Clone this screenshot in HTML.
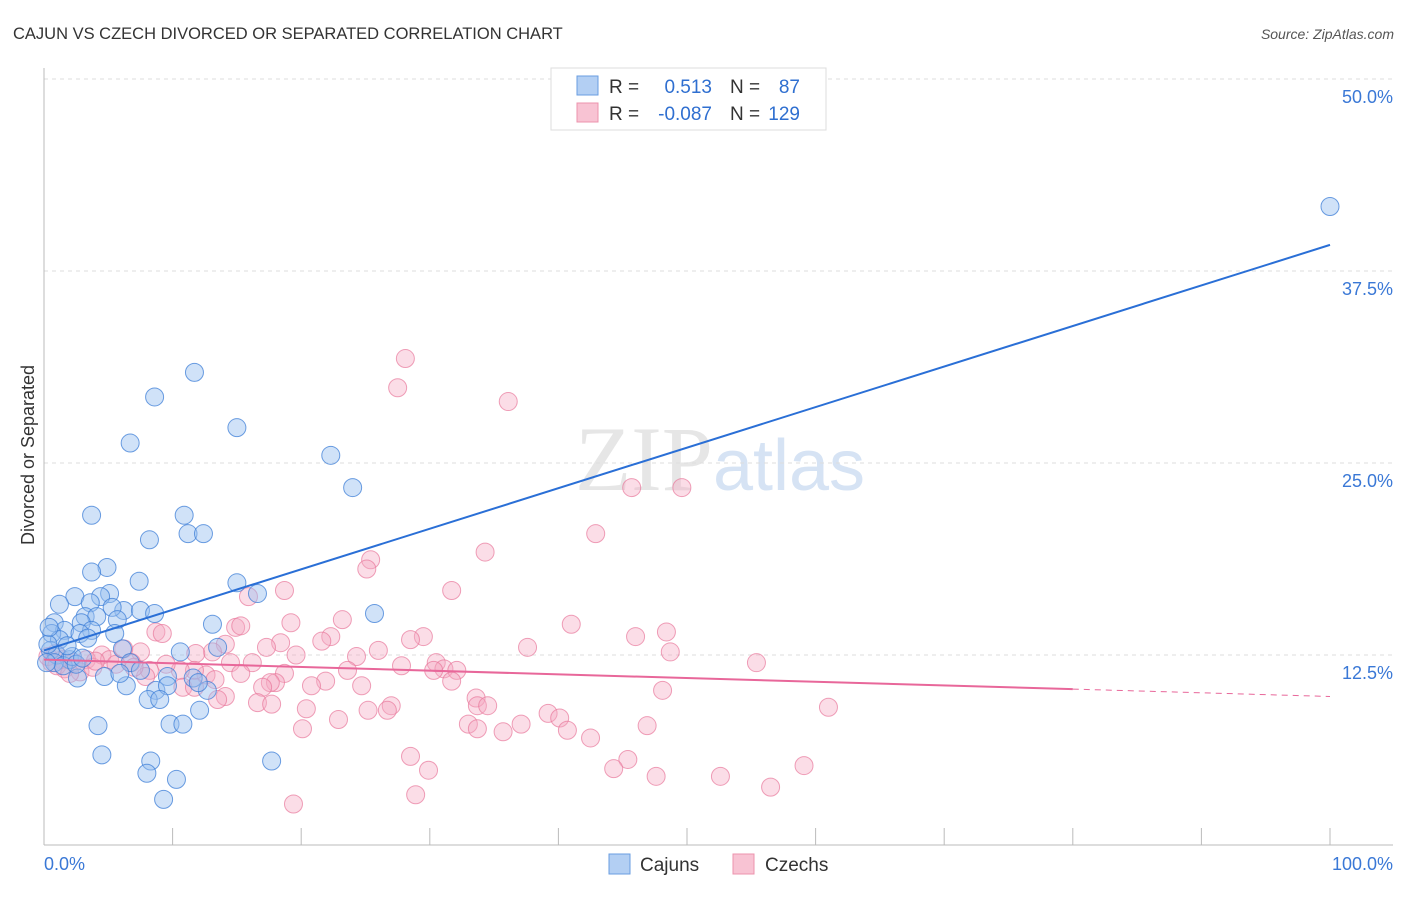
<!DOCTYPE html>
<html><head><meta charset="utf-8"><style>
body{margin:0;background:#fff;font-family:"Liberation Sans",sans-serif}
</style></head><body>
<svg id="chart" width="1406" height="892" xmlns="http://www.w3.org/2000/svg" font-family="Liberation Sans, sans-serif">
<text x="13" y="39" font-size="16.5" fill="#333">CAJUN VS CZECH DIVORCED OR SEPARATED CORRELATION CHART</text>
<text x="1394" y="39" font-size="14" fill="#555" font-style="italic" text-anchor="end">Source: ZipAtlas.com</text>
<text x="720" y="490" font-size="92" text-anchor="middle" fill="#e6e6e6" font-family="Liberation Serif, serif">ZIP<tspan fill="#d6e3f4" font-family="Liberation Sans, sans-serif" font-size="72">atlas</tspan></text>
<g id="grid"></g>
<g id="axes"></g>
<text transform="translate(34,455) rotate(-90)" font-size="18" fill="#333" text-anchor="middle">Divorced or Separated</text>
<g id="pts"></g>
<g id="lines"></g>
<g>
<rect x="551" y="68" width="275" height="62" fill="#fff" stroke="#ddd"/>
<rect x="577" y="76" width="21" height="19" fill="#b3cff3" stroke="#6a9ee0"/>
<rect x="577" y="103" width="21" height="19" fill="#f8c3d3" stroke="#ec93ad"/>
<text x="609" y="93" font-size="19" fill="#333">R =</text>
<text x="712" y="93" font-size="19" fill="#2f6fd0" text-anchor="end">0.513</text>
<text x="730" y="93" font-size="19" fill="#333">N =</text>
<text x="800" y="93" font-size="19" fill="#2f6fd0" text-anchor="end">87</text>
<text x="609" y="120" font-size="19" fill="#333">R =</text>
<text x="712" y="120" font-size="19" fill="#2f6fd0" text-anchor="end">-0.087</text>
<text x="730" y="120" font-size="19" fill="#333">N =</text>
<text x="800" y="120" font-size="19" fill="#2f6fd0" text-anchor="end">129</text>
</g>
<g>
<rect x="609" y="854" width="21" height="20" fill="#b3cff3" stroke="#6a9ee0"/>
<text x="640" y="871" font-size="19" fill="#333">Cajuns</text>
<rect x="733" y="854" width="21" height="20" fill="#f8c3d3" stroke="#ec93ad"/>
<text x="765" y="871" font-size="19" fill="#333">Czechs</text>
</g>
</svg>
<script>
const yTicks=[12.5,25,37.5,50];
const yTickLabels=["12.5%","25.0%","37.5%","50.0%"];
const xTicks=[0,10,20,30,40,50,60,70,80,90,100];
const xEndLabels=["0.0%","100.0%"];
const cajunX=[100,11.7,8.6,15.0,6.7,22.3,24.0,3.7,10.9,11.2,12.4,8.2,4.9,3.7,7.4,15.0,16.6,5.1,2.4,4.4,1.2,3.6,6.2,7.5,8.6,5.3,25.7,3.2,4.1,5.7,0.8,2.9,13.1,1.6,3.7,2.8,0.6,5.5,3.4,1.2,13.5,10.6,6.1,0.5,1.0,2.0,6.7,7.5,9.6,11.6,4.7,2.6,6.4,8.7,12.7,9.6,12.0,8.1,9.0,12.1,4.2,9.8,10.8,4.5,8.3,17.7,8.0,10.3,9.3,0.3,0.8,1.5,2.2,0.4,1.8,2.5,3.0,5.9,0.2];
const cajunY=[41.7,30.9,29.3,27.3,26.3,25.5,23.4,21.6,21.6,20.4,20.4,20.0,18.2,17.9,17.3,17.2,16.5,16.5,16.3,16.3,15.8,15.9,15.4,15.4,15.2,15.6,15.2,15.0,15.0,14.8,14.6,14.6,14.5,14.1,14.1,13.9,13.9,13.9,13.6,13.5,13.0,12.7,12.9,12.8,12.5,12.2,12.0,11.5,11.1,11.0,11.1,11.0,10.5,10.2,10.2,10.5,10.7,9.6,9.6,8.9,7.9,8.0,8.0,6.0,5.6,5.6,4.8,4.4,3.1,13.2,12.0,11.8,12.4,14.3,13.1,11.9,12.3,11.3,12.0];
const czechX=[28.1,27.5,36.1,45.7,49.6,42.9,34.3,25.4,25.1,31.7,18.7,15.9,41.0,19.2,23.2,14.9,15.3,8.7,9.2,48.4,46.0,29.5,28.5,22.3,21.6,18.4,14.1,37.6,48.7,26.0,7.5,6.2,17.3,24.3,19.6,13.1,11.8,4.5,5.1,5.6,3.3,2.3,1.4,0.6,1.6,55.4,27.8,30.5,31.1,32.1,30.3,16.2,14.5,23.6,18.7,15.3,12.6,11.7,10.6,8.2,7.9,31.7,21.9,20.8,24.7,18.0,17.6,17.0,13.3,10.8,11.7,48.1,14.1,13.5,33.6,33.7,34.5,27.0,26.7,25.2,16.6,17.7,20.4,61.0,39.2,40.1,22.9,20.1,33.0,33.7,37.1,35.7,40.7,42.5,46.9,28.5,29.9,45.4,44.3,47.6,52.6,59.1,56.5,28.9,19.4,0.3,1.0,2.8,3.8,4.0,6.8,7.0,9.5,0.9,2.0];
const czechY=[31.8,29.9,29.0,23.4,23.4,20.4,19.2,18.7,18.1,16.7,16.7,16.3,14.5,14.6,14.8,14.3,14.4,14.0,13.9,14.0,13.7,13.7,13.5,13.7,13.4,13.3,13.2,13.0,12.7,12.8,12.7,12.9,13.0,12.4,12.5,12.7,12.6,12.5,12.2,11.9,12.2,12.0,12.2,12.0,11.6,12.0,11.8,12.0,11.6,11.5,11.5,12.0,12.0,11.5,11.3,11.3,11.2,11.5,11.5,11.5,11.1,10.8,10.8,10.5,10.5,10.7,10.7,10.4,10.9,10.4,10.4,10.2,9.8,9.6,9.7,9.2,9.2,9.2,8.9,8.9,9.4,9.3,9.0,9.1,8.7,8.4,8.3,7.7,8.0,7.7,8.0,7.5,7.6,7.1,7.9,5.9,5.0,5.7,5.1,4.6,4.6,5.3,3.9,3.4,2.8,12.4,11.8,11.4,11.7,12.1,12.0,11.7,11.9,12.6,11.3];
const cajunTrend=[12.8,39.2];
const czechTrend=[12.2,9.8];
const X=v=>44+v*12.86;
const Y=v=>847-v*15.36;
const NS="http://www.w3.org/2000/svg";
function mk(tag,attrs,parent){const e=document.createElementNS(NS,tag);for(const k in attrs)e.setAttribute(k,attrs[k]);parent.appendChild(e);return e;}
const grid=document.getElementById('grid'),axes=document.getElementById('axes'),pts=document.getElementById('pts'),lines=document.getElementById('lines');
yTicks.forEach((t,i)=>{
 const g=mk('line',{x1:44,x2:1393,y1:Y(t),y2:Y(t),stroke:'#ddd','stroke-dasharray':'4,4'},grid);
 
 
 const tx=mk('text',{x:1393,y:Y(t)+24,'font-size':18,fill:'#3a78d6','text-anchor':'end'},grid);
 tx.textContent=yTickLabels[i];
 
 
});
const ax=mk('line',{x1:44,x2:1393,y1:845,y2:845,stroke:'#bbb'},axes);


const ay=mk('line',{x1:44,x2:44,y1:68,y2:845,stroke:'#bbb'},axes);


xTicks.forEach(t=>{
 const l=mk('line',{x1:X(t),x2:X(t),y1:828,y2:845,stroke:'#bbb'},axes);
 
 
});
const xl0=mk('text',{x:44,y:870,'font-size':18,fill:'#3a78d6'},axes);
xl0.textContent=xEndLabels[0];


const xl1=mk('text',{x:1393,y:870,'font-size':18,fill:'#3a78d6','text-anchor':'end'},axes);
xl1.textContent=xEndLabels[1];


czechX.forEach((x,i)=>{
 const c=mk('circle',{cx:X(x),cy:Y(czechY[i]),r:9,fill:'rgba(246,170,195,0.4)',stroke:'rgba(232,120,155,0.7)','stroke-width':1},pts);
 
 
});
cajunX.forEach((x,i)=>{
 const c=mk('circle',{cx:X(x),cy:Y(cajunY[i]),r:9,fill:'rgba(150,190,240,0.45)',stroke:'rgba(60,125,215,0.75)','stroke-width':1},pts);
 
 
});
const bl=mk('line',{x1:X(0),y1:Y(cajunTrend[0]),x2:X(100),y2:Y(cajunTrend[1]),stroke:'#2a6fd6','stroke-width':2},lines);


const yAt=f=>czechTrend[0]+(czechTrend[1]-czechTrend[0])*f;
const pl=mk('line',{x1:X(0),y1:Y(yAt(0)),x2:X(80),y2:Y(yAt(0.8)),stroke:'#e8679a','stroke-width':2},lines);


const pd=mk('line',{x1:X(80),y1:Y(yAt(0.8)),x2:X(100),y2:Y(yAt(1)),stroke:'#e8679a','stroke-width':1,'stroke-dasharray':'6,5'},lines);


</script>
</body></html>
